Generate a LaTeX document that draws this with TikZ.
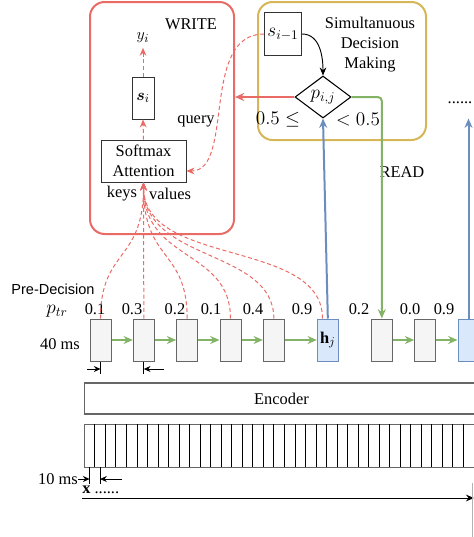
\documentclass[tikz,border=0pt]{standalone}
\usepackage{amsmath}
\usepackage{fontspec}
\setmainfont{Liberation Serif}
\setsansfont{Liberation Sans}
\usetikzlibrary{arrows.meta,shapes.geometric,positioning}

\definecolor{wred}{HTML}{EA6B66}
\definecolor{dgold}{HTML}{D6B656}
\definecolor{rgreen}{HTML}{82B366}
\definecolor{hblue}{HTML}{6C8EBF}
\definecolor{hfill}{HTML}{DAE8FC}
\definecolor{cfill}{HTML}{F5F5F5}
\definecolor{cline}{HTML}{666666}

\tikzset{
  chunk/.style={draw=cline, fill=cfill, line width=0.75pt, inner sep=0pt,
    minimum width=15.75pt, minimum height=31.5pt},
  headchunk/.style={chunk, draw=hblue, fill=hfill},
  plainbox/.style={draw=black!80, line width=0.6pt, inner sep=1pt},
  bigmath/.style={font=\fontsize{14.4}{17}\selectfont},
  region/.style={rounded corners=11pt, line width=1.5pt},
  flow/.style={rgreen, line width=1.5pt, -{Stealth[length=7pt,width=6pt]}},
  attn/.style={wred, line width=0.75pt, dash pattern=on 3pt off 2pt,
    -{Stealth[length=6pt,width=5pt]}},
  dimarrow/.style={black, line width=0.6pt, -{Stealth[length=5pt,width=4.5pt]}},
  prob/.style={inner sep=1pt}
}

\begin{document}
\begin{tikzpicture}[x=0.75pt,y=-0.75pt,font=\fontsize{12.3}{15}\selectfont,
    node distance=16pt]
  \clip (0,0) rectangle (474,537);

  % regions
  \node[region, draw=wred, minimum width=108pt, minimum height=174pt] (write) at (162,118) {};
  \node[region, draw=dgold, minimum width=126pt, minimum height=103.5pt] (simul) at (342,71) {};
  \node (writelbl) at (191,24) {WRITE};
  \node[align=center] (sdm) at (370,45) {Simultanuous\\Decision\\Making};

  % decoder side
  \node (yi) at (143,38) {$y_i$};
  \node[plainbox, minimum width=16.5pt, minimum height=31.5pt] (si) at (143,98) {$\boldsymbol{s}_i$};
  \node[plainbox, align=center, minimum width=63.75pt, minimum height=31.5pt] (att) at (143.5,161) {Softmax\\Attention};
  \node (query) at (196,121) {query};
  \node (keys) at (122,194) {keys};
  \node (vals) at (170,194) {values};

  \node[plainbox, bigmath, minimum width=28pt, minimum height=32pt] (prev) at (283,34) {$s_{i-1}$};
  \node[diamond, draw, bigmath, line width=0.8pt, inner sep=0pt, minimum width=42pt, minimum height=31.5pt] (dec) at (323,97) {$p_{i,j}$};
  \node[bigmath] (ge) at (278,120) {$0.5\leq$};
  \node[bigmath] (lt) at (358,120) {$<0.5$};
  \node (read) at (402,172) {READ};
  \node (dots) at (460,103) {......};

  % pre-decision chunks
  \node[font=\sffamily\fontsize{10.9}{13}\selectfont] (predec) at (53,289) {Pre-Decision};
  \node[bigmath] (ptr) at (57,311) {$p_{tr}$};
  \node (ms40) at (60,344) {40 ms};

  \node[chunk] (c1) at (100.5,340) {};
  \node[chunk, right=of c1] (c2) {};
  \node[chunk, right=of c2] (c3) {};
  \node[chunk, right=of c3] (c4) {};
  \node[chunk, right=of c4] (c5) {};
  \node[headchunk, right=24pt of c5] (hj) {$\mathbf{h}_j$};
  \node[chunk, right=24pt of hj] (c7) {};
  \node[chunk, right=of c7] (c8) {};
  \node[headchunk, right=of c8] (c9) {};

  \foreach \x/\v [count=\i] in {95/0.1,132/0.3,175/0.2,211/0.1,253/0.4,302/0.9,359/0.2,410/0.0,444/0.9}
    \node[prob] (p\i) at (\x,309) {\v};

  \foreach \a/\b in {c1/c2,c2/c3,c3/c4,c4/c5,c5/hj,c7/c8,c8/c9}
    \draw[flow] (\a) -- (\b);

  % 40 ms
  \draw[line width=0.6pt] (c1.south) -- ++(0,12);
  \draw[line width=0.6pt] (c2.south) -- ++(0,12);
  \coordinate (d1) at (87,369);
  \coordinate (d2) at (164,369);
  \draw[dimarrow] (d1) -- (d1 -| c1.south);
  \draw[dimarrow] (d2) -- (d2 -| c2.south);

  % encoder and frames
  \node[draw=cline, line width=0.8pt, minimum width=296pt, minimum height=23.25pt] (enc) at (281.5,398.5) {Encoder};
  \node[draw=cline, line width=0.8pt, anchor=north west, minimum width=297pt, minimum height=32.25pt] (frames) at (84.3,424) {};
  \foreach \k in {1,...,37}
    \draw[line width=0.6pt] (84.3+\k*10.53,424) -- ++(0,43);

  % 10 ms
  \node (ms10) at (58,479) {10 ms};
  \draw[line width=0.6pt] (89.6,467) -- ++(0,17);
  \draw[line width=0.6pt] (100.1,467) -- ++(0,17);
  \coordinate (e1) at (78,479);
  \coordinate (e2) at (122,479);
  \draw[dimarrow] (e1) -- (89.6,479);
  \draw[dimarrow] (e2) -- (100.1,479);

  \node[anchor=west, inner sep=0pt] (xin) at (82,490) {$\mathbf{x}$ ......};
  \coordinate (tstart) at (82,498);
  \coordinate (tend) at (474,498);
  \draw[line width=0.7pt, -{Stealth[length=6pt,width=5pt]}] (tstart) -- (tend);
  \draw[cline!50, line width=0.5pt] (472.7,483) -- (472.7,540);

  % write side
  \draw[attn] (att.north) -- (si.south);
  \draw[attn] (si.north) -- (yi.south);
  \draw[attn] (prev.west) .. controls (200,34) and (235,171) .. ([yshift=-7.5pt]att.east);
  \draw[attn] (c2.north) -- (att.south);
  \foreach \c in {c1,c3,c4,c5}
    \draw[attn] (\c.north) .. controls +(0,-70) and +(0,80) .. (att.south);
  \draw[attn] ([xshift=-4pt]hj.north) .. controls +(0,-80) and +(0,85) .. (att.south);

  % decision
  \draw[line width=0.7pt, -{Stealth[length=6pt,width=5pt]}] (prev.east) to[out=0,in=90] (dec.north);
  \draw[wred, line width=1.5pt, -{Stealth[length=7pt,width=6pt]}] (dec.west) -- (dec.west -| write.east);
  \draw[rgreen, line width=1.5pt, rounded corners=3pt, -{Stealth[length=7pt,width=6pt]}] (dec.east) -| (c7.north);
  \draw[hblue, line width=1.5pt, -{Stealth[length=7pt,width=6pt]}] (hj.north) -- (dec.south);
  \draw[hblue, line width=1.5pt, -{Stealth[length=7pt,width=6pt]}] (c9.north) -- (c9.north |- dec.south);
\end{tikzpicture}
\end{document}
